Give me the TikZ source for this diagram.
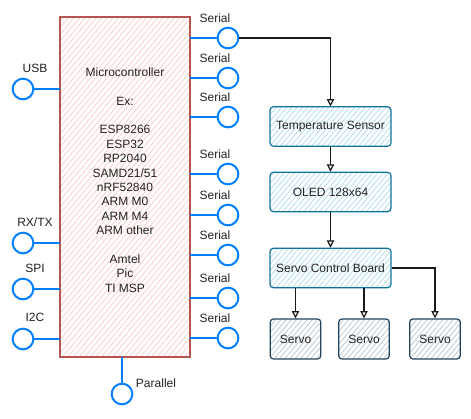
\documentclass[tikz,border=0pt]{standalone}
\usepackage{fontspec}
\setmainfont{Liberation Sans}
\usetikzlibrary{arrows.meta,patterns.meta}
\definecolor{mcstroke}{HTML}{B85450}
\definecolor{mcfill}{HTML}{F8CECC}
\definecolor{bluestroke}{HTML}{10739E}
\definecolor{bluefill}{HTML}{B1DDF0}
\definecolor{servostroke}{HTML}{23445D}
\definecolor{servofill}{HTML}{BAC8D3}
\definecolor{pin}{HTML}{007FFF}
\definecolor{txt}{HTML}{222222}
\tikzset{
  px/.style={x=0.75pt,y=-0.75pt},
  lbl/.style={font=\fontsize{9}{10.8}\selectfont, text=txt, inner sep=0pt},
  mcbox/.style={draw=mcstroke, line width=0.8pt, pattern={Lines[angle=50,distance=3.2pt,line width=0.6pt]}, pattern color=mcfill, minimum width=97.5pt, minimum height=255pt, inner sep=0pt},
  pinc/.style={circle, draw=pin, fill=white, line width=1.5pt, minimum size=15.5pt, inner sep=0pt},
  wire/.style={draw=pin, line width=1.5pt},
  bluebox/.style={draw=bluestroke, line width=0.9pt, rounded corners=2.5pt, pattern={Lines[angle=50,distance=3pt,line width=0.6pt]}, pattern color=bluefill, minimum width=90.75pt, minimum height=29.5pt, inner sep=0pt, font=\fontsize{9}{10.8}\selectfont, text=txt},
  servobox/.style={draw=servostroke, line width=0.9pt, rounded corners=2.5pt, pattern={Lines[angle=50,distance=3pt,line width=0.6pt]}, pattern color=servofill, minimum width=38pt, minimum height=30pt, inner sep=0pt, font=\fontsize{9}{10.8}\selectfont, text=txt},
  arr/.style={draw=black!90, line width=0.9pt, -{Triangle[open,length=5.5pt,width=5.5pt]}}
}
\begin{document}
\begin{tikzpicture}[px]
\useasboundingbox (0,0) rectangle (471,418);
% microcontroller
\node[mcbox] (mc) at (125,187) {};
\node[lbl, align=center] (mctext) at (125,180) {Microcontroller\\ \strut\\ Ex:\\ \strut\\ ESP8266\\ ESP32\\ RP2040\\ SAMD21/51\\ nRF52840\\ ARM M0\\ ARM M4\\ ARM other\\ \strut\\ Amtel\\ Pic\\ TI MSP};
% left pins
\node[pinc] (usb) at (23,89) {};
\node[pinc] (rxtx) at (23,243) {};
\node[pinc] (spi) at (23,289) {};
\node[pinc] (i2c) at (23,339) {};
\node[lbl] (lusb) at (35,68) {USB};
\node[lbl] (lrxtx) at (35,222) {RX/TX};
\node[lbl] (lspi) at (35,268) {SPI};
\node[lbl] (li2c) at (35,317) {I2C};
\foreach \p in {usb,rxtx,spi,i2c} {\draw[wire] (\p.east) -- (\p.east -| mc.west);}
% right pins
\foreach \i/\y in {1/38,2/78,3/117,4/174,5/215,6/255,7/298,8/338} {
  \node[pinc] (s\i) at (228,\y) {};
  \node[lbl] (ls\i) at (215,\y-20) {Serial};
  \draw[wire] (s\i.west) -- (s\i.west -| mc.east);
}
% parallel
\node[pinc] (par) at (122,394) {};
\node[lbl] (lpar) at (156,383) {Parallel};
\draw[wire] (par.north) -- (par.north |- mc.south);
% right side chain
\node[bluebox] (temp) at (330.5,126.5) {Temperature Sensor};
\node[bluebox] (oled) at (330.5,192) {OLED 128x64};
\node[bluebox] (scb) at (330.5,268) {Servo Control Board};
\node[servobox] (sv1) at (295.5,339) {Servo};
\node[servobox] (sv2) at (364,339) {Servo};
\node[servobox] (sv3) at (435,339) {Servo};
\draw[arr] (s1.east) -| (temp.north);
\draw[arr] (temp.south) -- (oled.north);
\draw[arr] (oled.south) -- (scb.north);
\draw[arr] (sv1.north |- scb.south) -- (sv1.north);
\draw[arr] (sv2.north |- scb.south) -- (sv2.north);
\draw[arr] (scb.east) -| (sv3.north);
\end{tikzpicture}
\end{document}
